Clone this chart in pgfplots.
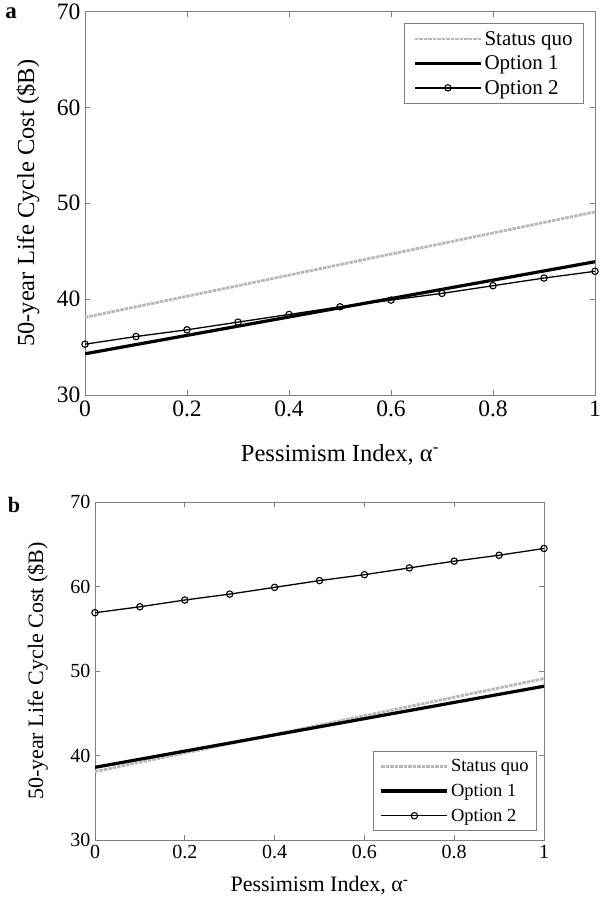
\documentclass[border=0pt]{standalone}
\usepackage{fontspec}
\setmainfont{Liberation Serif}
\usepackage{pgfplots}
\usepackage{pgfplotstable}
\pgfplotsset{compat=1.18}

% Panel a: life cycle cost versus pessimism index
\pgfplotstableread{
x    sq    o1
0    38.1  34.3
1    49.1  43.9
}\lineA
\pgfplotstableread{
x    o2
0.0  35.3
0.1  36.1
0.2  36.8
0.3  37.6
0.4  38.4
0.5  39.2
0.6  39.9
0.7  40.6
0.8  41.4
0.9  42.2
1.0  42.9
}\optA

% Panel b
\pgfplotstableread{
x    sq    o1
0    38.1  38.6
1    49.1  48.2
}\lineB
\pgfplotstableread{
x    o2
0.0  56.9
0.1  57.6
0.2  58.4
0.3  59.1
0.4  59.9
0.5  60.7
0.6  61.4
0.7  62.2
0.8  63.0
0.9  63.7
1.0  64.5
}\optB

\definecolor{axgray}{gray}{0.5}
\definecolor{sqgray}{gray}{0.72}

\pgfplotsset{
  panel/.style={
    scale only axis,
    xmin=0, xmax=1, ymin=30, ymax=70,
    xtick={0,0.2,0.4,0.6,0.8,1},
    ytick={30,40,50,60,70},
    tick align=inside,
    major tick length=5bp,
    axis line style={axgray, line width=0.8bp},
    tick style={axgray, line width=0.8bp},
    /pgf/number format/assume math mode=true,
    xticklabel style={yshift=-2bp},
    yticklabel style={xshift=-1bp},
    legend cell align=left,
    legend style={draw=axgray, line width=0.8bp, fill=white,
      inner xsep=6bp, inner ysep=4bp},
    legend image code/.code={
      \draw[mark repeat=2,mark phase=2,#1]
        plot coordinates {(0bp,0bp) (33bp,0bp) (66bp,0bp)};},
    xlabel={Pessimism Index, α\textsuperscript{-}},
    ylabel={50-year Life Cycle Cost (\$B)},
  },
  sq/.style={sqgray, line width=2.8bp, dash pattern=on 3.5bp off 1bp},
  o1/.style={black, line width=3.2bp},
  o2/.style={black, line width=1.3bp, mark=o, mark size=3.2bp,
    mark options={line width=1.1bp, solid}},
}

\begin{document}
\begin{tikzpicture}
\useasboundingbox (0,0) rectangle (600bp,-903bp);
\fill[white] (0,0) rectangle (600bp,-903bp);

\node[font=\fontsize{23bp}{26bp}\selectfont\bfseries] at (11bp,-13bp) {a};
\node[font=\fontsize{22bp}{25bp}\selectfont\bfseries] at (14bp,-505bp) {b};

\begin{axis}[panel,
  at={(85bp,-395bp)}, anchor=south west,
  width=510bp, height=383.5bp,
  tick label style={font=\fontsize{23.5bp}{26bp}\selectfont},
  label style={font=\fontsize{24.5bp}{28bp}\selectfont},
  xlabel style={at={(axis description cs:0.5,-0.155)}, anchor=center},
  ylabel style={at={(axis description cs:-0.112,0.5)}, anchor=center},
  legend style={font=\fontsize{21bp}{24bp}\selectfont,
    row sep=5bp, inner xsep=9bp, inner ysep=6bp,
    at={(1,1)}, xshift=-11bp, yshift=-11.5bp, anchor=north east},
]
\addplot[sq] table[x=x, y=sq] {\lineA};
\addlegendentry{Status quo}
\addplot[o1] table[x=x, y=o1] {\lineA};
\addlegendentry{Option 1}
\addplot[o2] table[x=x, y=o2] {\optA};
\addlegendentry{Option 2}
\end{axis}

\begin{axis}[panel,
  at={(95bp,-840bp)}, anchor=south west,
  width=449bp, height=338bp,
  tick label style={font=\fontsize{20bp}{23bp}\selectfont},
  label style={font=\fontsize{22bp}{25bp}\selectfont},
  xlabel style={at={(axis description cs:0.5,-0.136)}, anchor=center},
  ylabel style={at={(axis description cs:-0.128,0.5)}, anchor=center},
  legend style={font=\fontsize{18.5bp}{22bp}\selectfont,
    row sep=7bp, inner ysep=6bp,
    at={(1,0)}, xshift=-7bp, yshift=9bp, anchor=south east},
]
\addplot[sq] table[x=x, y=sq] {\lineB};
\addlegendentry{Status quo}
\addplot[o1] table[x=x, y=o1] {\lineB};
\addlegendentry{Option 1}
\addplot[o2] table[x=x, y=o2] {\optB};
\addlegendentry{Option 2}
\end{axis}
\end{tikzpicture}
\end{document}
